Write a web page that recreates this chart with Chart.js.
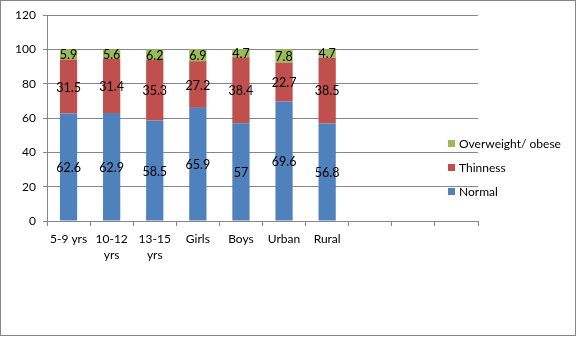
<!DOCTYPE html>
<html><head><meta charset="utf-8">
<script src="https://cdn.jsdelivr.net/npm/chart.js@4"></script>
<style>html,body{margin:0;padding:0;background:#fff;}#wrap{width:577px;height:337px;position:relative;}</style>
</head><body><div id="wrap"><canvas id="c" width="577" height="337"></canvas></div>
<script>
const categories = [["5-9 yrs"], ["10-12", "yrs"], ["13-15", "yrs"], ["Girls"], ["Boys"], ["Urban"], ["Rural"], [""], [""], [""]];
const normal = [62.6, 62.9, 58.5, 65.9, 57, 69.6, 56.8];
const thinness = [31.5, 31.4, 35.3, 27.2, 38.4, 22.7, 38.5];
const overweight = [5.9, 5.6, 6.2, 6.9, 4.7, 7.8, 4.7];
const seriesNames = ["Normal", "Thinness", "Overweight/ obese"];
const yTicks = [0, 20, 40, 60, 80, 100, 120];

const FONT = "Lato, 'Open Sans', sans-serif";
const colors = ["#4F81BD", "#C0504D", "#9BBB59"];
const gridCol = "#868686";

const labelPlugin = {
  id: 'labels',
  afterDatasetsDraw(chart) {
    const ctx = chart.ctx;
    ctx.save();
    ctx.font = "12.5px " + FONT;
    ctx.fillStyle = "#000";
    ctx.textAlign = "center";
    ctx.textBaseline = "middle";
    chart.data.datasets.forEach((ds, di) => {
      const meta = chart.getDatasetMeta(di);
      meta.data.forEach((el, i) => {
        const v = ds.data[i];
        if (v == null) return;
        const y = (el.y + el.base) / 2;
        ctx.fillText(String(v), el.x, y + 1);
      });
    });
    ctx.restore();
  },
  afterDraw(chart) {
    const ctx = chart.ctx;
    ctx.save();
    ctx.font = "12px " + FONT;
    ctx.textBaseline = "middle";
    ctx.textAlign = "left";
    const order = [2, 1, 0];
    order.forEach((di, k) => {
      const y = 144 + k * 24;
      ctx.fillStyle = chart.data.datasets[di].backgroundColor;
      ctx.fillRect(448, y - 4, 7, 7);
      ctx.fillStyle = "#000";
      ctx.fillText(chart.data.datasets[di].label, 459, y);
    });
    ctx.strokeStyle = gridCol;
    ctx.lineWidth = 1;
    ctx.strokeRect(0.5, 0.5, 575, 335);
    ctx.restore();
  }
};

new Chart(document.getElementById('c'), {
  type: 'bar',
  data: {
    labels: categories,
    datasets: [
      { label: seriesNames[0], data: normal, backgroundColor: colors[0] },
      { label: seriesNames[1], data: thinness, backgroundColor: colors[1] },
      { label: seriesNames[2], data: overweight, backgroundColor: colors[2] }
    ]
  },
  options: {
    responsive: false,
    animation: false,
    devicePixelRatio: 1,
    layout: { padding: { left: 0, right: 99, top: 15, bottom: 0 } },
    datasets: { bar: { barPercentage: 0.4, categoryPercentage: 1.0 } },
    plugins: { legend: { display: false }, tooltip: { enabled: false } },
    scales: {
      x: {
        stacked: true,
        afterFit(s) { s.height = 116; },
        grid: { offset: true, drawOnChartArea: false, drawTicks: true, tickLength: 5, color: gridCol },
        border: { color: gridCol },
        ticks: { color: "#000", font: { family: FONT, size: 12, lineHeight: 1.35 }, padding: 5, maxRotation: 0, autoSkip: false }
      },
      y: {
        stacked: true,
        min: 0, max: 120,
        afterFit(s) { s.width = 47; },
        afterBuildTicks(s) { s.ticks = yTicks.map(v => ({ value: v })); },
        grid: { color: gridCol, tickLength: 4 },
        border: { color: gridCol },
        ticks: { color: "#000", font: { family: FONT, size: 12 }, padding: 7 }
      }
    }
  },
  plugins: [labelPlugin]
});
</script></body></html>
